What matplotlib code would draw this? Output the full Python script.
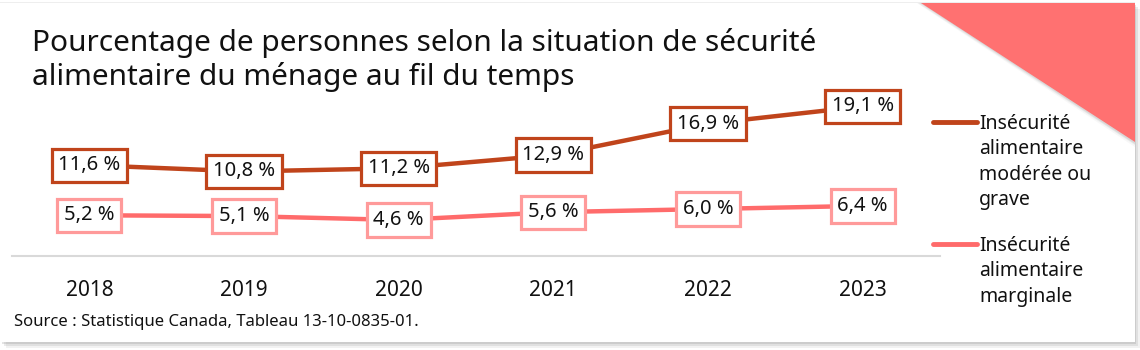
import matplotlib
matplotlib.use("Agg")
import matplotlib.pyplot as plt
from matplotlib.patches import Rectangle, Polygon
from matplotlib.lines import Line2D

plt.rcParams['font.family'] = ['Noto Sans', 'DejaVu Sans']

years = ["2018", "2019", "2020", "2021", "2022", "2023"]
moderate_severe = [11.6, 10.8, 11.2, 12.9, 16.9, 19.1]
marginal = [5.2, 5.1, 4.6, 5.6, 6.0, 6.4]
series_names = ["Insécurité\nalimentaire\nmodérée ou\ngrave",
                "Insécurité\nalimentaire\nmarginale"]
title = "Pourcentage de personnes selon la situation de sécurité\nalimentaire du ménage au fil du temps"
source = "Source : Statistique Canada, Tableau 13-10-0835-01."

DARK = "#c0441b"
PINK_LINE = "#ff6b6b"
PINK_EDGE = "#ff9a9a"
TRIANGLE = "#ff7171"

W, H = 1140, 350
fig = plt.figure(figsize=(W / 100, H / 100), dpi=100)
fig.patch.set_facecolor("#ffffff")

def fx(px):
    return px / W

def fy(py):
    return 1 - py / H

# card with a soft shadow
for i, a in enumerate([0.10, 0.16, 0.22]):
    off = 6 - i * 2
    fig.patches.append(Rectangle((fx(off), fy(342 + off)), fx(1134), 1 - fy(339),
                                 transform=fig.transFigure, facecolor="#888888",
                                 alpha=a, edgecolor="none", zorder=0))
fig.patches.append(Rectangle((0, fy(342)), fx(1135), 1 - fy(339),
                             transform=fig.transFigure, facecolor="white",
                             edgecolor="none", zorder=1))
fig.patches.append(Rectangle((0, fy(3)), fx(1135), 1 - fy(1),
                             transform=fig.transFigure, facecolor="#eeeeee",
                             edgecolor="none", zorder=1))

# corner triangle with a slight shadow on its diagonal
for i, a in enumerate([0.06, 0.10, 0.14]):
    d = 4 - i * 1.3
    fig.patches.append(Polygon([(fx(921 - d), fy(3)), (fx(1135), fy(3)),
                                (fx(1135), fy(142 + d * 1.2))], closed=True,
                               transform=fig.transFigure, facecolor="#777777",
                               alpha=a, edgecolor="none", zorder=2))
fig.patches.append(Polygon([(fx(921), fy(3)), (fx(1135), fy(3)), (fx(1135), fy(142))],
                           closed=True, transform=fig.transFigure,
                           facecolor=TRIANGLE, edgecolor="none", zorder=3))

# plotting area
ax_left, ax_right = 12, 940
ax_bottom, ax_top = 256, 90
ax = fig.add_axes([fx(ax_left), fy(ax_bottom), fx(ax_right - ax_left), fy(ax_top) - fy(ax_bottom)])
ax.set_facecolor("none")
ax.set_zorder(5)
x = list(range(len(years)))
ax.set_xlim(-0.5, len(years) - 0.5)
ax.set_ylim(0, (ax_bottom - ax_top) / 7.83)

ax.plot(x, moderate_severe, color=DARK, lw=3.2, solid_capstyle="butt", zorder=2)
ax.plot(x, marginal, color=PINK_LINE, lw=3.2, solid_capstyle="butt", zorder=2)

for xi, v in zip(x, moderate_severe):
    ax.text(xi, v, f"{v:.1f} %".replace(".", ","), ha="center", va="center",
            fontsize=14.5, color="#111111", zorder=4,
            bbox=dict(boxstyle="square,pad=0.33", facecolor="white",
                      edgecolor=DARK, linewidth=2.3))
for xi, v in zip(x, marginal):
    ax.text(xi, v, f"{v:.1f} %".replace(".", ","), ha="center", va="center",
            fontsize=14.5, color="#111111", zorder=4,
            bbox=dict(boxstyle="square,pad=0.33", facecolor="white",
                      edgecolor=PINK_EDGE, linewidth=2.3))

for s in ["left", "right", "top"]:
    ax.spines[s].set_visible(False)
ax.spines["bottom"].set_color("#d9d9d9")
ax.spines["bottom"].set_linewidth(1.5)
ax.set_yticks([])
ax.set_xticks(x)
ax.set_xticklabels(years, fontsize=15, color="#111111")
ax.tick_params(axis="x", length=0, pad=17)

# title and source
fig.text(fx(32), fy(60), title, fontsize=21.5, color="#111111", ha="left", va="center",
         linespacing=1.2, zorder=6)
fig.text(fx(14), fy(322), source, fontsize=12, color="#111111", ha="left", va="center",
         zorder=6)

# legend
for name, color, ly in [(series_names[0], DARK, 122), (series_names[1], PINK_LINE, 244)]:
    fig.lines.append(Line2D([fx(933), fx(977)], [fy(ly), fy(ly)], color=color, lw=3.5,
                            solid_capstyle="round", transform=fig.transFigure, zorder=6))
    fig.text(fx(979), fy(ly - 8), name, fontsize=14, color="#111111", ha="left",
             va="top", linespacing=1.36, zorder=6)

fig.savefig("out.png", dpi=100)
